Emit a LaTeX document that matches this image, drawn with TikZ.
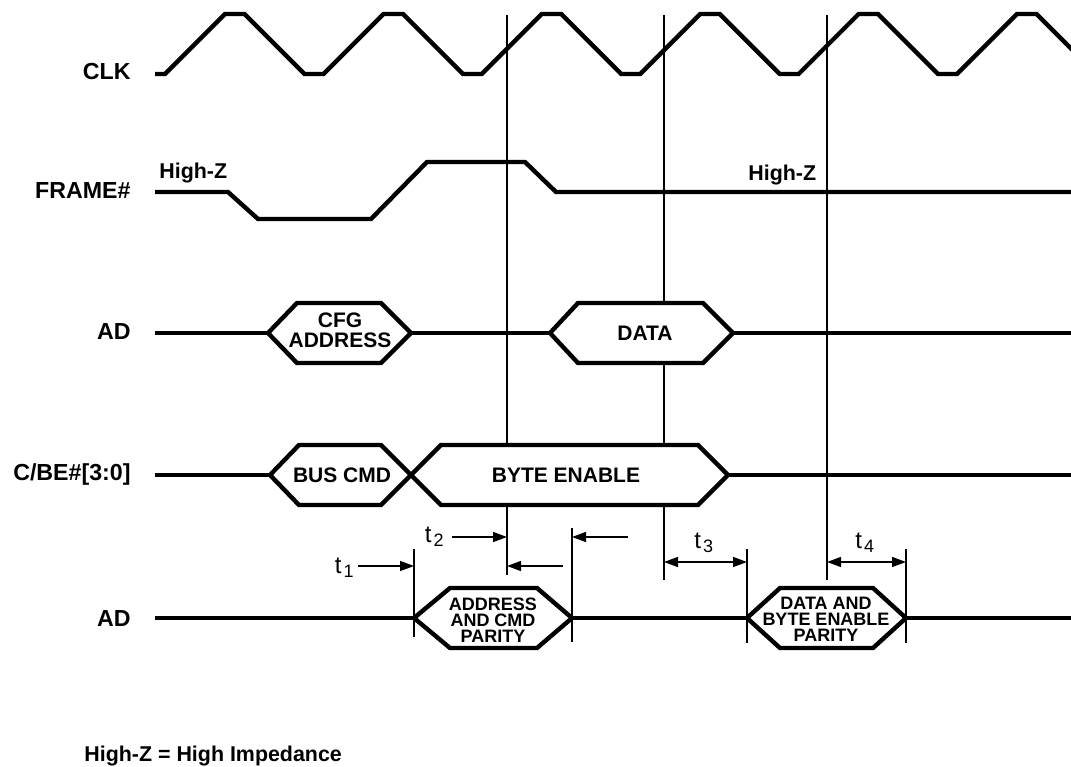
\documentclass[tikz,border=0pt]{standalone}
\usepackage{fontspec}
\setmainfont{Liberation Sans}
\usetikzlibrary{arrows.meta,positioning}
\tikzset
{
    signame/.style = {anchor=base east, font=\bfseries\fontsize{11.6}{13}\selectfont, inner sep=0},
    wave/.style = {line width=2.2pt, line join=miter},
    busbox/.style = {line width=2.2pt, fill=white, line join=miter},
    boxtext/.style = {align=center, font=\bfseries\fontsize{10.5}{10}\selectfont, inner sep=0},
    paritytext/.style = {align=center, font=\bfseries\fontsize{9}{8}\selectfont, inner sep=0},
    hizlabel/.style = {anchor=base west, font=\bfseries\fontsize{10.7}{12}\selectfont, inner sep=0},
    marker/.style = {line width=0.7pt},
    timing/.style = {line width=0.7pt, -{Triangle[length=7pt,width=5pt]}},
    timingboth/.style = {line width=0.7pt, {Triangle[length=7pt,width=5pt]}-{Triangle[length=7pt,width=5pt]}},
    tlabel/.style = {font=\fontsize{12}{12}\selectfont, inner sep=0}
}
\newcommand{\tsub}[1]{t\kern1pt\raisebox{-2pt}{\fontsize{9}{9}\selectfont #1}}

\begin{document}
\begin{tikzpicture}[x=0.5pt, y=-0.5pt]
\useasboundingbox (0,0) rectangle (1071,766);
\begin{scope}
\clip (0,0) rectangle (1071,766);

% signal names
\node[signame] (clk) at (131,79) {CLK};
\node[signame] (frame) at (131,198) {FRAME\#};
\node[signame] (ad) at (131,339) {AD};
\node[signame] (cbe) at (131,480) {C/BE\#[3:0]};
\node[signame] (adpar) at (131,626) {AD};

% clock edges
\coordinate (e1top) at (507,15); \coordinate (e1bot) at (507,575);
\coordinate (e2top) at (664,15); \coordinate (e2bot) at (664,580);
\coordinate (e3top) at (827,15); \coordinate (e3bot) at (827,580);
\draw[marker] (e1top) -- (e1bot);
\draw[marker] (e2top) -- (e2bot);
\draw[marker] (e3top) -- (e3bot);

% parity ticks
\coordinate (p1top) at (414,549); \coordinate (p1bot) at (414,637);
\coordinate (p2top) at (572,528); \coordinate (p2bot) at (572,642);
\coordinate (p3top) at (747,549); \coordinate (p3bot) at (747,643);
\coordinate (p4top) at (906,549); \coordinate (p4bot) at (906,643);
\draw[marker] (p1top) -- (p1bot);
\draw[marker] (p2top) -- (p2bot);
\draw[marker] (p3top) -- (p3bot);
\draw[marker] (p4top) -- (p4bot);

% waveforms
\draw[wave] (155,74) foreach \i in {0,...,5} { -- ({165+158.4*\i},74) -- ({225+158.4*\i},14) -- ({244.5+158.4*\i},14) -- ({304.5+158.4*\i},74) };
\draw[wave] (155,192) -- (228,192) -- (258,219) -- (371,219) -- (427,162) -- (525,162) -- (556,192) -- (1071,192);
\draw[wave] (155,333) -- (268,333) (411,333) -- (550,333) (733,333) -- (1071,333);
\draw[wave] (155,475) -- (270,475) (728,475) -- (1071,475);
\draw[wave] (155,618) -- (414,618) (572,618) -- (747,618) (906,618) -- (1071,618);

% bus boxes
\draw[busbox] (268,333) -- (297,303) -- (381,303) -- (411,333) -- (381,363) -- (297,363) -- cycle;
\draw[busbox] (550,333) -- (578,303) -- (703,303) -- (733,333) -- (703,363) -- (578,363) -- cycle;
\draw[busbox] (270,475) -- (299,445) -- (381,445) -- (411,475) -- (381,505) -- (299,505) -- cycle;
\draw[busbox] (411,475) -- (441,445) -- (698,445) -- (728,475) -- (698,505) -- (441,505) -- cycle;
\draw[busbox] (414,618) -- (450,588) -- (537,588) -- (572,618) -- (537,648) -- (450,648) -- cycle;
\draw[busbox] (747,618) -- (780,588) -- (873,588) -- (906,618) -- (873,648) -- (780,648) -- cycle;

\node[boxtext] (cfgaddr) at (340,330) {CFG\\ADDRESS};
\node[boxtext] (data) at (645,333) {DATA};
\node[boxtext] (buscmd) at (342,475) {BUS CMD};
\node[boxtext] (byteen) at (566,475) {BYTE ENABLE};
\node[paritytext] (addrpar) at (493,620) {ADDRESS\\AND CMD\\PARITY};
\node[paritytext] (datapar) at (826,619) {DATA AND\\BYTE ENABLE\\PARITY};

% high impedance
\node[hizlabel] (hiz1) at (159,178) {High-Z};
\node[hizlabel] (hiz2) at (748,180) {High-Z};
\node[hizlabel] (hiznote) at (84,761) {High-Z = High Impedance};

% timing
\node[tlabel, anchor=base east] (t1) at (354,573) {\tsub{1}};
\node[tlabel, anchor=base east] (t2) at (444,542) {\tsub{2}};
\node[tlabel, anchor=base west] (t3) at (694,548) {\tsub{3}};
\node[tlabel, anchor=base west] (t4) at (855,548) {\tsub{4}};
\coordinate (a1) at (358,566);
\coordinate (a2) at (452,537);
\coordinate (a3) at (563,566);
\coordinate (a4) at (628,537);
\draw[timing] (a1) -- (a1 -| p1top);
\draw[timing] (a2) -- (a2 -| e1top);
\draw[timing] (a3) -- (a3 -| e1top);
\draw[timing] (a4) -- (a4 -| p2top);
\draw[timingboth] (664,562) -- (747,562);
\draw[timingboth] (827,562) -- (906,562);
\end{scope}
\end{tikzpicture}
\end{document}
